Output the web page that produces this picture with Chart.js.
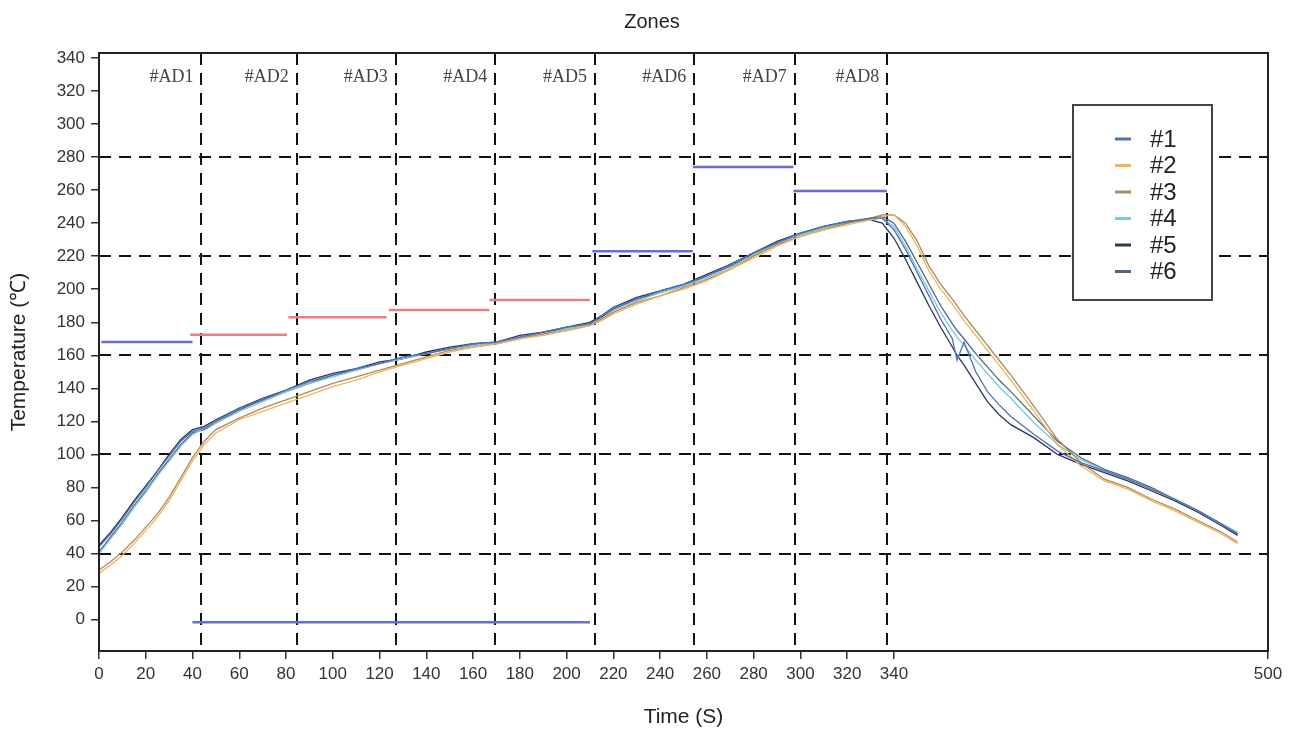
<!DOCTYPE html>
<html><head><meta charset="utf-8">
<script src="https://cdn.jsdelivr.net/npm/chart.js@4.4.1/dist/chart.umd.min.js"></script>
<style>html,body{margin:0;padding:0;background:#fff;}canvas{display:block;}</style>
</head><body>
<canvas id="c" width="1296" height="737"></canvas>
<script>
// ---- data ----
const timeS = [0,5,10,15,20,25,30,35,40,45,50,60,70,80,90,100,110,120,130,140,150,160,170,180,190,200,210,215,220,230,240,250,260,270,280,290,300,310,320,330,335,340,345,350,355,360,365,367,370,375,380,385,390,400,410,420,430,440,450,460,470,480,487];
const temp1 = [44,52,61,71,80,90,99,108,114,116,120,128,133,139,144,148,152,155,159,161,164,167,168,171,174,177,179,184,189,194,199,203,208,215,222,228,234,238,241,243,
  243,236,224,210,196,182,170,157,168,150,138,130,123,112,102,95,90,85,79,73,66,58,52];
const temp2 = [28,33,39,46,54,62,72,84,96,106,113,121,126,131,136,141,145,150,154,158,162,165,167,170,172,175,178,181,185,191,196,200,205,212,219,226,232,236,239,242,
  244,245,238,226,211,200,191,187,181,172,163,154,145,126,106,93,84,79,72,66,59,52,46];
const temp3 = [30,35,41,48,56,64,74,86,98,108,115,122,128,133,138,143,147,151,155,159,163,165,167,170,173,175,178,182,186,192,196,201,206,212,220,227,232,236,240,243,
  245,245,240,229,214,203,194,190,184,175,166,157,148,129,109,95,85,80,73,67,60,53,47];
const temp4 = [40,49,58,68,77,87,96,105,112,116,119,126,132,138,143,147,151,155,158,161,164,166,168,171,173,176,179,182,187,193,198,202,207,213,221,228,233,237,240,242,
  243,238,226,212,199,186,175,171,166,157,149,141,134,119,106,97,90,85,79,73,66,58,53];
const temp5 = [45,53,62,72,81,90,100,109,115,117,121,128,134,139,145,149,152,156,158,162,165,167,168,172,174,177,180,184,189,195,199,203,209,215,222,229,234,238,241,242,
  240,231,218,204,190,177,165,160,154,143,132,124,118,110,100,94,89,84,78,72,65,57,51];
const temp6 = [41,50,59,69,78,88,97,106,113,115,119,127,133,138,143,148,151,155,158,161,164,166,168,171,174,176,179,183,188,194,198,202,208,214,221,228,233,237,240,243,
  244,240,229,216,203,190,179,175,170,161,153,145,138,123,108,98,91,86,80,73,66,58,52];
const seriesNames = ['#1','#2','#3','#4','#5','#6'];
const seriesTemps = [temp1,temp2,temp3,temp4,temp5,temp6];

const zoneNames = ['#AD1','#AD2','#AD3','#AD4','#AD5','#AD6','#AD7','#AD8'];
const zoneEdges = [43.8,84.6,126.9,169.5,212.1,254.6,297.6,337.2];
const setTemps  = [168,172.5,183,187.5,193.5,223,274,259.5];
const setStart  = [1,39,81,124,167,211,254,297];
const setEnd    = [40,80.4,123,167,210,254,297,337];
const baseStart = [40];
const baseEnd   = [210];
const baseTemp  = [-1.6];
const gridTemps = [40,100,160,220,280];
const xTickVals = [0,20,40,60,80,100,120,140,160,180,200,220,240,260,280,300,320,340,500];
const yTickVals = [0,20,40,60,80,100,120,140,160,180,200,220,240,260,280,300,320,340];

// ---- styles ----
const seriesColors = ['#4f6fbf','#f2b25c','#a88c5c','#7cc8dc','#2b3556','#50657d'];
const setColors = ['#6b6bd6','#ea7f7f','#ea7f7f','#ea7f7f','#ea7f7f','#6b6bd6','#6b6bd6','#6b6bd6'];
const FONT = "'Liberation Sans', Arial, sans-serif";

const datasets = [];
zoneNames.forEach((z,i)=>{
  datasets.push({label:'set '+z, data:[{x:setStart[i],y:setTemps[i]},{x:setEnd[i],y:setTemps[i]}],
    borderColor:setColors[i], borderWidth:2.5, pointRadius:0});
});
baseTemp.forEach((v,i)=>{
  datasets.push({label:'base', data:[{x:baseStart[i],y:v},{x:baseEnd[i],y:v}],
    borderColor:'#6b6bd6', borderWidth:2.5, pointRadius:0});
});
seriesNames.forEach((n,i)=>{
  datasets.push({label:n, data:timeS.map((t,k)=>({x:t,y:seriesTemps[i][k]})),
    borderColor:seriesColors[i], borderWidth:1.3, pointRadius:0, tension:0});
});

const framePlugin = {
  id:'frame',
  beforeDatasetsDraw(chart){
    const {ctx, chartArea:a, scales:{x,y}} = chart;
    ctx.save();
    ctx.strokeStyle='#111'; ctx.lineWidth=2; ctx.setLineDash([12,8]);
    gridTemps.forEach(v=>{const py=Math.round(y.getPixelForValue(v));
      ctx.beginPath(); ctx.moveTo(a.left,py); ctx.lineTo(a.right,py); ctx.stroke();});
    zoneEdges.forEach(v=>{const px=Math.round(x.getPixelForValue(v));
      ctx.beginPath(); ctx.moveTo(px,a.top); ctx.lineTo(px,a.bottom); ctx.stroke();});
    ctx.restore();
  },
  afterDatasetsDraw(chart){
    const {ctx, chartArea:a, scales:{x}} = chart;
    ctx.save();
    ctx.setLineDash([]);
    ctx.strokeStyle='#222'; ctx.lineWidth=2;
    ctx.strokeRect(a.left,a.top,a.right-a.left,a.bottom-a.top);
    ctx.font="18px 'Liberation Serif', 'Times New Roman', serif";
    ctx.fillStyle='#444'; ctx.textAlign='right'; ctx.textBaseline='middle';
    zoneNames.forEach((z,i)=>{ctx.fillText(z, x.getPixelForValue(zoneEdges[i])-8, a.top+24);});
    const bx=a.right-195, by=a.top+52, bw=139, bh=195;
    ctx.fillStyle='#fff'; ctx.fillRect(bx,by,bw,bh);
    ctx.strokeStyle='#444'; ctx.lineWidth=2; ctx.strokeRect(bx,by,bw,bh);
    ctx.font="24px "+FONT; ctx.textAlign='left'; ctx.textBaseline='middle';
    seriesNames.forEach((n,i)=>{
      const ry=by+34+i*26.5;
      ctx.strokeStyle=seriesColors[i]; ctx.lineWidth=3;
      ctx.beginPath(); ctx.moveTo(bx+42,ry); ctx.lineTo(bx+58,ry); ctx.stroke();
      ctx.fillStyle='#222'; ctx.fillText(n,bx+77,ry+1);
    });
    ctx.restore();
  }
};

new Chart(document.getElementById('c'),{
  type:'line',
  data:{datasets},
  options:{
    responsive:false, animation:false, devicePixelRatio:1,
    layout:{padding:{left:36,right:28,top:0,bottom:0}},
    plugins:{
      legend:{display:false}, tooltip:{enabled:false},
      title:{display:true,text:'Zones',color:'#222',font:{family:FONT,size:20,weight:'normal'},padding:{top:10,bottom:19}}
    },
    scales:{
      x:{type:'linear',min:0,max:500,
        afterFit(s){s.height=86;},
        afterBuildTicks(s){s.ticks=xTickVals.map(v=>({value:v}));},
        ticks:{color:'#333',font:{family:FONT,size:17},padding:5,maxRotation:0,autoSkip:false},
        grid:{drawOnChartArea:false,drawTicks:true,tickLength:8,color:'#333',lineWidth:1.5},
        border:{display:true,color:'#222',width:2},
        title:{display:true,text:'Time (S)',color:'#222',font:{family:FONT,size:21},padding:{top:4,bottom:7}}
      },
      y:{type:'linear',min:-19,max:343,
        afterFit(s){s.width=63;},
        afterBuildTicks(s){s.ticks=yTickVals.map(v=>({value:v}));},
        ticks:{color:'#333',font:{family:FONT,size:17},padding:6,autoSkip:false},
        grid:{drawOnChartArea:false,drawTicks:true,tickLength:8,color:'#333',lineWidth:1.5},
        border:{display:true,color:'#222',width:2},
        title:{display:true,text:'Temperature (℃)',color:'#222',font:{family:FONT,size:21},padding:{top:-29,bottom:4}}
      }
    }
  },
  plugins:[framePlugin]
});
</script>
</body></html>
